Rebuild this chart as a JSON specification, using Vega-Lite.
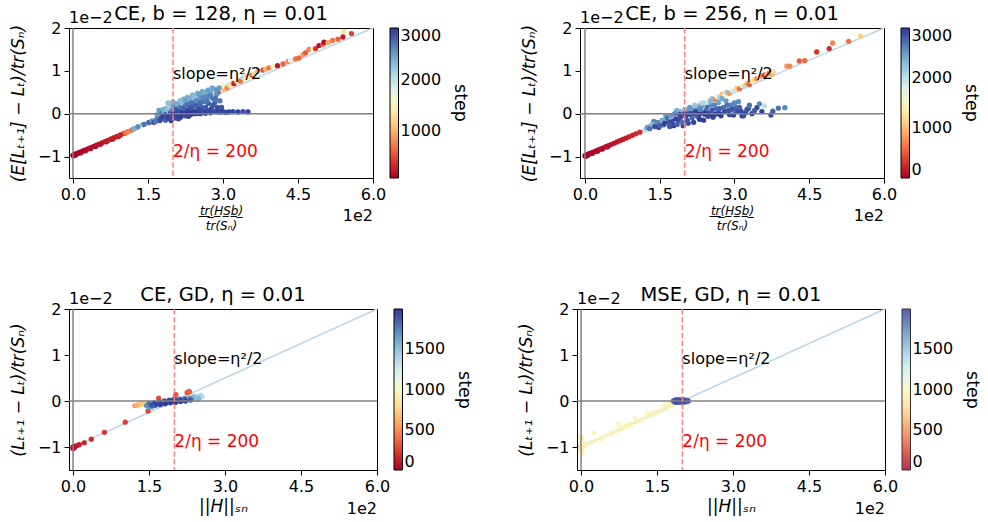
{
  "$schema": "https://vega.github.io/schema/vega-lite/v6.json",
  "background": "white",
  "padding": {"left": 8, "top": 3, "right": 5, "bottom": 3},
  "config": {
    "font": "DejaVu Sans",
    "view": {"stroke": "#000", "strokeWidth": 1},
    "axis": {"domain": false, "grid": false, "tickSize": 5, "tickColor": "#000", "tickWidth": 1, "labelFontSize": 16, "labelColor": "#000", "labelPadding": 3, "labelFlush": false, "titleFontSize": 17, "titleFontWeight": "normal", "titleColor": "#000"},
    "legend": {"titleOrient": "right", "titleFontSize": 17.5, "titleFontWeight": "normal", "titleColor": "#000", "labelFontSize": 16, "labelColor": "#000", "gradientThickness": 8.5, "gradientStrokeColor": "#000", "gradientStrokeWidth": 1, "labelBaseline": "middle", "labelOffset": 8, "offset": 17, "padding": 0, "titlePadding": 10},
    "title": {"fontSize": 19.5, "fontWeight": "normal", "color": "#000", "offset": -14, "frame": "group"}
  },
  "datasets": {
    "line": [{"x": 0, "y": -1}, {"x": 6, "y": 2}],
    "p1": [
      {"x":0.00,"y":-0.97,"s":90},{"x":0.01,"y":-0.98,"s":92},{"x":0.02,"y":-0.96,"s":95},{"x":0.03,"y":-0.97,"s":98},{"x":0.04,"y":-0.95,"s":100},{"x":0.05,"y":-0.965,"s":102},{"x":0.06,"y":-0.94,"s":105},{"x":0.08,"y":-0.93,"s":110},{"x":0.10,"y":-0.92,"s":115},{"x":0.13,"y":-0.905,"s":120},{"x":0.15,"y":-0.915,"s":122},{"x":0.16,"y":-0.89,"s":125},{"x":0.20,"y":-0.87,"s":130},{"x":0.24,"y":-0.85,"s":140},{"x":0.25,"y":-0.865,"s":142},{"x":0.28,"y":-0.83,"s":150},{"x":0.32,"y":-0.81,"s":160},{"x":0.35,"y":-0.815,"s":165},{"x":0.37,"y":-0.785,"s":170},{"x":0.42,"y":-0.76,"s":180},{"x":0.45,"y":-0.765,"s":185},{"x":0.47,"y":-0.735,"s":190},{"x":0.52,"y":-0.71,"s":200},{"x":0.55,"y":-0.715,"s":205},{"x":0.58,"y":-0.68,"s":210},{"x":0.64,"y":-0.65,"s":220},{"x":0.67,"y":-0.655,"s":225},{"x":0.70,"y":-0.62,"s":230},{"x":0.76,"y":-0.59,"s":245},{"x":0.79,"y":-0.595,"s":250},{"x":0.82,"y":-0.56,"s":260},{"x":0.88,"y":-0.53,"s":275},{"x":0.91,"y":-0.535,"s":280},{"x":0.95,"y":-0.495,"s":290},{"x":1.02,"y":-0.46,"s":310},{"x":1.10,"y":-0.42,"s":330},
      {"x":1.05,"y":-0.45,"s":700},{"x":1.12,"y":-0.41,"s":800},{"x":1.18,"y":-0.38,"s":650},{"x":1.28,"y":-0.33,"s":900},{"x":1.38,"y":-0.27,"s":750},{"x":1.45,"y":-0.24,"s":1400},{"x":1.55,"y":-0.2,"s":600},{"x":1.65,"y":-0.14,"s":1300},{"x":1.35,"y":-0.3,"s":1800},{"x":1.6,"y":-0.16,"s":1900},{"x":1.5,"y":-0.22,"s":2200},
      {"x":1.95,"y":0.0,"s":1900},{"x":2.1,"y":0.06,"s":1500},{"x":2.2,"y":0.12,"s":2000},{"x":2.3,"y":0.16,"s":1300},{"x":2.4,"y":0.22,"s":1800},
      {"x":2.45,"y":0.36,"s":1500},{"x":2.5,"y":0.4,"s":2000},{"x":2.55,"y":0.38,"s":1300},{"x":2.6,"y":0.45,"s":2200},{"x":2.62,"y":0.4,"s":900},{"x":2.7,"y":0.5,"s":1700},{"x":2.72,"y":0.44,"s":1400},{"x":2.78,"y":0.52,"s":2100},{"x":2.82,"y":0.48,"s":1200},{"x":2.85,"y":0.57,"s":1600},{"x":2.9,"y":0.5,"s":400},{"x":2.95,"y":0.6,"s":1900},{"x":3.0,"y":0.58,"s":1100},{"x":3.02,"y":0.65,"s":1500},{"x":3.08,"y":0.6,"s":800},{"x":3.12,"y":0.68,"s":2000},{"x":3.15,"y":0.66,"s":1350},{"x":3.2,"y":0.72,"s":1000},{"x":3.22,"y":0.7,"s":300},{"x":3.28,"y":0.76,"s":1800},{"x":3.32,"y":0.78,"s":1200},{"x":3.35,"y":0.76,"s":700},{"x":3.4,"y":0.84,"s":2100},{"x":3.45,"y":0.82,"s":1450},{"x":3.5,"y":0.88,"s":900},{"x":3.52,"y":0.85,"s":1600},{"x":3.58,"y":0.9,"s":600},{"x":3.62,"y":0.93,"s":1300},{"x":3.7,"y":0.99,"s":800},{"x":3.72,"y":0.96,"s":1900},{"x":3.8,"y":1.02,"s":500},{"x":3.85,"y":1.04,"s":1000},{"x":3.92,"y":1.07,"s":700},{"x":4.0,"y":1.1,"s":1500},{"x":4.09,"y":1.12,"s":250},{"x":4.2,"y":1.16,"s":600},{"x":4.3,"y":1.22,"s":800},{"x":4.35,"y":1.25,"s":1800},{"x":4.45,"y":1.28,"s":700},{"x":4.52,"y":1.3,"s":650},{"x":4.6,"y":1.38,"s":900},{"x":4.65,"y":1.42,"s":550},{"x":4.72,"y":1.5,"s":750},{"x":4.8,"y":1.5,"s":1400},{"x":4.85,"y":1.52,"s":400},{"x":4.92,"y":1.59,"s":200},{"x":5.0,"y":1.62,"s":650},{"x":5.02,"y":1.67,"s":150},{"x":5.1,"y":1.66,"s":900},{"x":5.19,"y":1.71,"s":700},{"x":5.3,"y":1.74,"s":600},{"x":5.4,"y":1.79,"s":250},{"x":5.41,"y":1.92,"s":1300},{"x":5.57,"y":1.87,"s":450},
      {"x":1.22,"y":-0.35,"s":2400},{"x":1.3,"y":-0.3,"s":2600},{"x":1.42,"y":-0.25,"s":2700},{"x":1.52,"y":-0.2,"s":2800},{"x":1.58,"y":-0.17,"s":2500},{"x":1.62,"y":-0.2,"s":2900},{"x":1.68,"y":-0.12,"s":2600},
      {"x":1.65,"y":-0.18,"s":2700},{"x":1.68,"y":-0.02,"s":2400},{"x":1.74,"y":-0.16,"s":2900},{"x":1.76,"y":0.04,"s":2500},{"x":1.8,"y":0.1,"s":2350},{"x":1.83,"y":-0.12,"s":2950},{"x":1.86,"y":0.12,"s":2450},{"x":1.89,"y":-0.05,"s":2850},{"x":1.93,"y":0.2,"s":2300},{"x":1.96,"y":-0.16,"s":2950},{"x":1.99,"y":0.14,"s":2600},{"x":2.03,"y":-0.07,"s":2900},{"x":2.06,"y":0.24,"s":2400},{"x":2.08,"y":0.14,"s":2700},{"x":2.11,"y":-0.12,"s":2950},{"x":2.14,"y":0.3,"s":2350},{"x":2.17,"y":0.08,"s":2800},{"x":2.19,"y":-0.03,"s":2950},{"x":2.21,"y":0.34,"s":2450},{"x":2.24,"y":0.22,"s":2650},{"x":2.27,"y":0.08,"s":2900},{"x":2.29,"y":0.38,"s":2400},{"x":2.31,"y":-0.06,"s":2950},{"x":2.34,"y":0.28,"s":2600},{"x":2.37,"y":0.1,"s":2850},{"x":2.39,"y":0.44,"s":2350},{"x":2.41,"y":0.18,"s":2750},{"x":2.44,"y":0.32,"s":2550},{"x":2.46,"y":0.06,"s":2950},{"x":2.49,"y":0.48,"s":2400},{"x":2.51,"y":0.22,"s":2700},{"x":2.54,"y":0.36,"s":2500},{"x":2.57,"y":0.14,"s":2850},{"x":2.59,"y":0.52,"s":2450},{"x":2.61,"y":0.28,"s":2650},{"x":2.64,"y":0.44,"s":2550},{"x":2.67,"y":0.06,"s":2950},{"x":2.69,"y":0.4,"s":2600},{"x":2.71,"y":0.24,"s":2800},{"x":2.74,"y":0.5,"s":2500},{"x":2.77,"y":0.12,"s":2900},{"x":2.79,"y":0.36,"s":2650},{"x":2.81,"y":0.58,"s":2450},{"x":2.84,"y":0.26,"s":2750},{"x":2.87,"y":0.45,"s":2550},{"x":2.89,"y":0.14,"s":2900},{"x":2.92,"y":0.6,"s":2500},{"x":2.94,"y":0.3,"s":2700},{"x":2.97,"y":0.15,"s":2850},{"x":1.72,"y":0.08,"s":2500},{"x":1.9,"y":0.25,"s":2300},{"x":2.0,"y":0.28,"s":2350},
      {"x":1.70,"y":-0.10,"s":2700},{"x":1.72,"y":-0.05,"s":2500},{"x":1.75,"y":-0.12,"s":2900},{"x":1.78,"y":0.0,"s":2800},{"x":1.80,"y":-0.08,"s":2950},{"x":1.82,"y":0.05,"s":2400},{"x":1.85,"y":-0.02,"s":2900},{"x":1.85,"y":-0.15,"s":2800},{"x":1.88,"y":0.1,"s":2300},{"x":1.90,"y":-0.1,"s":2950},{"x":1.92,"y":0.15,"s":2200},{"x":1.95,"y":0.02,"s":2850},{"x":1.95,"y":-0.12,"s":2900},{"x":1.98,"y":0.08,"s":2600},{"x":2.0,"y":-0.05,"s":2950},{"x":2.0,"y":0.0,"s":2990},{"x":2.02,"y":0.18,"s":2500},{"x":2.05,"y":0.1,"s":2800},{"x":2.05,"y":-0.1,"s":2900},{"x":2.08,"y":0.0,"s":2950},{"x":2.1,"y":0.22,"s":2400},{"x":2.1,"y":-0.01,"s":2990},{"x":2.12,"y":0.05,"s":2900},{"x":2.15,"y":0.15,"s":2700},{"x":2.15,"y":-0.08,"s":2950},{"x":2.18,"y":0.28,"s":2300},{"x":2.2,"y":0.02,"s":2950},{"x":2.2,"y":0.0,"s":2990},{"x":2.22,"y":0.12,"s":2800},{"x":2.25,"y":0.3,"s":2500},{"x":2.25,"y":-0.05,"s":2900},{"x":2.28,"y":0.2,"s":2700},{"x":2.3,"y":0.05,"s":2950},{"x":2.3,"y":0.01,"s":2990},{"x":2.33,"y":0.35,"s":2400},{"x":2.35,"y":0.15,"s":2850},{"x":2.35,"y":-0.02,"s":2950},{"x":2.38,"y":0.25,"s":2700},{"x":2.4,"y":0.03,"s":2950},{"x":2.4,"y":0.0,"s":2990},{"x":2.42,"y":0.4,"s":2300},{"x":2.45,"y":0.2,"s":2800},{"x":2.45,"y":0.0,"s":2950},{"x":2.48,"y":0.3,"s":2600},{"x":2.5,"y":0.1,"s":2900},{"x":2.5,"y":0.01,"s":2990},{"x":2.52,"y":0.45,"s":2500},{"x":2.55,"y":0.25,"s":2750},{"x":2.55,"y":0.0,"s":2950},{"x":2.58,"y":0.05,"s":2900},{"x":2.6,"y":0.38,"s":2600},{"x":2.62,"y":0.5,"s":2400},{"x":2.65,"y":0.15,"s":2850},{"x":2.65,"y":0.01,"s":2950},{"x":2.68,"y":0.3,"s":2700},{"x":2.7,"y":0.55,"s":2500},{"x":2.72,"y":0.08,"s":2900},{"x":2.75,"y":0.42,"s":2650},{"x":2.75,"y":0.02,"s":2950},{"x":2.78,"y":0.6,"s":2450},{"x":2.8,"y":0.2,"s":2850},{"x":2.82,"y":0.05,"s":2900},{"x":2.85,"y":0.35,"s":2700},{"x":2.88,"y":0.55,"s":2550},{"x":2.9,"y":0.04,"s":2950},{"x":2.95,"y":0.04,"s":2900},{"x":3.0,"y":0.05,"s":2950},{"x":3.05,"y":0.03,"s":2900},{"x":3.12,"y":0.04,"s":2950},{"x":3.2,"y":0.05,"s":2900},{"x":3.3,"y":0.04,"s":2950},{"x":3.4,"y":0.05,"s":2900},{"x":3.5,"y":0.04,"s":2950}
    ],
    "p2": [
      {"x":0.00,"y":-0.98,"s":10},{"x":0.01,"y":-0.99,"s":12},{"x":0.02,"y":-0.97,"s":15},{"x":0.03,"y":-0.98,"s":18},{"x":0.04,"y":-0.96,"s":20},{"x":0.05,"y":-0.975,"s":22},{"x":0.06,"y":-0.95,"s":25},{"x":0.08,"y":-0.94,"s":30},{"x":0.10,"y":-0.93,"s":35},{"x":0.13,"y":-0.915,"s":40},{"x":0.15,"y":-0.925,"s":42},{"x":0.16,"y":-0.9,"s":45},{"x":0.20,"y":-0.88,"s":50},{"x":0.24,"y":-0.86,"s":60},{"x":0.25,"y":-0.875,"s":62},{"x":0.28,"y":-0.84,"s":70},{"x":0.32,"y":-0.82,"s":80},{"x":0.35,"y":-0.825,"s":85},{"x":0.37,"y":-0.795,"s":90},{"x":0.42,"y":-0.77,"s":100},{"x":0.45,"y":-0.775,"s":105},{"x":0.47,"y":-0.745,"s":110},{"x":0.52,"y":-0.72,"s":120},{"x":0.58,"y":-0.69,"s":130},{"x":0.64,"y":-0.66,"s":140},{"x":0.70,"y":-0.63,"s":150},{"x":0.76,"y":-0.6,"s":165},{"x":0.82,"y":-0.57,"s":180},{"x":0.88,"y":-0.54,"s":195},{"x":0.95,"y":-0.505,"s":210},{"x":1.02,"y":-0.47,"s":230},{"x":1.10,"y":-0.43,"s":250},
      {"x":1.3,"y":-0.3,"s":700},{"x":1.4,"y":-0.25,"s":800},{"x":1.5,"y":-0.2,"s":650},{"x":1.55,"y":-0.18,"s":900},{"x":1.45,"y":-0.22,"s":600},{"x":1.2,"y":-0.38,"s":2000},{"x":1.6,"y":-0.2,"s":2000},
      {"x":2.2,"y":0.15,"s":1500},{"x":2.3,"y":0.2,"s":900},{"x":2.4,"y":0.25,"s":2000},{"x":2.5,"y":0.3,"s":1200},{"x":2.55,"y":0.35,"s":2200},{"x":2.6,"y":0.33,"s":700},{"x":2.65,"y":0.4,"s":1700},{"x":2.7,"y":0.38,"s":2100},{"x":2.75,"y":0.45,"s":1000},{"x":2.8,"y":0.43,"s":1400},{"x":2.85,"y":0.5,"s":2200},{"x":2.9,"y":0.48,"s":800},{"x":2.95,"y":0.55,"s":1600},{"x":3.0,"y":0.53,"s":1900},{"x":3.05,"y":0.6,"s":1100},{"x":3.1,"y":0.58,"s":600},{"x":3.15,"y":0.66,"s":1400},{"x":3.2,"y":0.64,"s":2000},{"x":3.25,"y":0.7,"s":900},{"x":3.3,"y":0.68,"s":500},{"x":3.35,"y":0.75,"s":1300},{"x":3.4,"y":0.8,"s":1200},{"x":3.45,"y":0.82,"s":700},{"x":3.5,"y":0.85,"s":1500},{"x":3.55,"y":0.88,"s":800},{"x":3.6,"y":0.9,"s":300},{"x":3.65,"y":0.92,"s":1000},{"x":3.7,"y":0.95,"s":650},{"x":3.75,"y":0.92,"s":900},{"x":3.78,"y":0.98,"s":1200},{"x":4.05,"y":1.11,"s":800},{"x":4.11,"y":1.11,"s":700},{"x":4.3,"y":1.23,"s":500},{"x":4.41,"y":1.24,"s":550},{"x":4.65,"y":1.44,"s":300},{"x":4.9,"y":1.52,"s":250},{"x":4.97,"y":1.65,"s":700},{"x":5.29,"y":1.69,"s":600},{"x":5.53,"y":1.81,"s":1100},
      {"x":1.38,"y":-0.18,"s":2600},{"x":1.48,"y":-0.32,"s":2900},{"x":1.58,"y":-0.26,"s":2800},{"x":1.62,"y":-0.05,"s":2400},{"x":1.68,"y":-0.2,"s":2850},{"x":1.78,"y":-0.28,"s":2950},{"x":1.84,"y":0.08,"s":2350},{"x":1.88,"y":-0.16,"s":2900},{"x":1.97,"y":-0.28,"s":2950},{"x":2.04,"y":0.06,"s":2600},{"x":2.07,"y":-0.22,"s":2900},{"x":2.14,"y":0.1,"s":2500},{"x":2.18,"y":-0.2,"s":2950},{"x":2.24,"y":0.14,"s":2450},{"x":2.28,"y":-0.08,"s":2900},{"x":2.34,"y":0.18,"s":2500},{"x":2.38,"y":-0.15,"s":2950},{"x":2.43,"y":0.08,"s":2750},{"x":2.47,"y":-0.06,"s":2900},{"x":2.53,"y":0.2,"s":2550},{"x":2.57,"y":-0.08,"s":2950},{"x":2.63,"y":0.12,"s":2750},{"x":2.68,"y":0.26,"s":2450},{"x":2.73,"y":-0.05,"s":2950},{"x":2.78,"y":0.15,"s":2700},{"x":2.83,"y":0.3,"s":2500},{"x":2.88,"y":0.08,"s":2850},{"x":2.93,"y":0.2,"s":2650},{"x":2.98,"y":-0.03,"s":2950},{"x":3.03,"y":0.14,"s":2750},{"x":3.08,"y":0.28,"s":2550},{"x":3.13,"y":0.06,"s":2900},{"x":3.22,"y":0.02,"s":2950},{"x":3.28,"y":0.12,"s":2800},
      {"x":1.25,"y":-0.32,"s":2500},{"x":1.3,"y":-0.35,"s":2700},{"x":1.35,"y":-0.25,"s":2300},{"x":1.4,"y":-0.3,"s":2900},{"x":1.45,"y":-0.2,"s":2600},{"x":1.5,"y":-0.28,"s":2800},{"x":1.55,"y":-0.15,"s":2400},{"x":1.6,"y":-0.22,"s":2950},{"x":1.65,"y":-0.1,"s":2700},{"x":1.7,"y":-0.3,"s":2850},{"x":1.72,"y":-0.05,"s":2500},{"x":1.75,"y":-0.18,"s":2900},{"x":1.8,"y":0.0,"s":2600},{"x":1.82,"y":-0.12,"s":2950},{"x":1.85,"y":-0.25,"s":2800},{"x":1.9,"y":0.05,"s":2400},{"x":1.9,"y":-0.02,"s":2990},{"x":1.92,"y":-0.08,"s":2900},{"x":1.95,"y":-0.2,"s":2700},{"x":2.0,"y":0.1,"s":2300},{"x":2.0,"y":0.0,"s":2990},{"x":2.02,"y":-0.05,"s":2950},{"x":2.05,"y":-0.15,"s":2850},{"x":2.1,"y":0.15,"s":2500},{"x":2.1,"y":-0.01,"s":2990},{"x":2.12,"y":0.0,"s":2900},{"x":2.15,"y":-0.1,"s":2750},{"x":2.2,"y":0.2,"s":2200},{"x":2.2,"y":0.0,"s":2990},{"x":2.22,"y":0.05,"s":2950},{"x":2.25,"y":-0.05,"s":2800},{"x":2.3,"y":-0.13,"s":2990},{"x":2.3,"y":0.0,"s":2990},{"x":2.32,"y":0.1,"s":2600},{"x":2.35,"y":0.25,"s":2100},{"x":2.4,"y":0.02,"s":2900},{"x":2.4,"y":-0.01,"s":2990},{"x":2.45,"y":0.15,"s":2700},{"x":2.5,"y":-0.02,"s":2950},{"x":2.5,"y":0.0,"s":2990},{"x":2.52,"y":0.3,"s":2300},{"x":2.55,"y":0.08,"s":2850},{"x":2.6,"y":0.2,"s":2600},{"x":2.6,"y":-0.02,"s":2990},{"x":2.65,"y":0.0,"s":2950},{"x":2.7,"y":0.12,"s":2800},{"x":2.7,"y":0.0,"s":2990},{"x":2.75,"y":0.35,"s":2400},{"x":2.8,"y":0.05,"s":2900},{"x":2.85,"y":0.2,"s":2700},{"x":2.9,"y":-0.02,"s":2950},{"x":2.95,"y":0.1,"s":2850},{"x":3.0,"y":0.25,"s":2600},{"x":3.05,"y":0.05,"s":2900},{"x":3.1,"y":0.15,"s":2800},{"x":3.15,"y":-0.05,"s":2950},{"x":3.18,"y":-0.05,"s":2900},{"x":3.25,"y":0.1,"s":2850},{"x":3.3,"y":0.2,"s":2700},{"x":3.35,"y":0.0,"s":2950},{"x":3.4,"y":0.07,"s":2800},{"x":3.45,"y":0.14,"s":2900},{"x":3.5,"y":0.23,"s":2600},{"x":3.55,"y":0.05,"s":2950},{"x":3.6,"y":0.18,"s":2000},{"x":3.73,"y":-0.03,"s":2900},{"x":3.77,"y":0.06,"s":2800},{"x":3.88,"y":0.13,"s":2700},{"x":4.01,"y":0.14,"s":2600}
    ],
    "p3": [
      {"x":0.0,"y":-1.0,"s":20},{"x":0.01,"y":-1.02,"s":30},{"x":0.02,"y":-0.99,"s":40},{"x":0.0,"y":-1.03,"s":50},{"x":0.03,"y":-1.0,"s":60},{"x":0.05,"y":-0.98,"s":80},{"x":0.08,"y":-0.97,"s":100},{"x":0.12,"y":-0.95,"s":120},{"x":0.22,"y":-0.91,"s":150},{"x":0.36,"y":-0.83,"s":180},{"x":0.62,"y":-0.68,"s":210},{"x":1.03,"y":-0.46,"s":240},{"x":1.48,"y":-0.22,"s":270},{"x":1.69,"y":0.06,"s":300},{"x":2.0,"y":0.05,"s":310},{"x":2.03,"y":0.14,"s":320},{"x":2.25,"y":0.18,"s":330},{"x":2.29,"y":0.21,"s":340},{"x":2.3,"y":0.2,"s":350},
      {"x":1.22,"y":-0.1,"s":550},{"x":1.26,"y":-0.09,"s":600},{"x":1.3,"y":-0.08,"s":650},{"x":1.35,"y":-0.07,"s":700},{"x":1.4,"y":-0.06,"s":750},
      {"x":2.55,"y":0.1,"s":1300},{"x":2.52,"y":0.12,"s":1400},{"x":2.5,"y":0.07,"s":1350},{"x":2.42,"y":0.04,"s":1400},{"x":2.45,"y":0.09,"s":1450},{"x":2.4,"y":0.08,"s":1500},{"x":2.38,"y":0.1,"s":1500},{"x":2.48,"y":0.05,"s":1550},{"x":2.35,"y":0.05,"s":1600},{"x":1.48,"y":-0.12,"s":1600},{"x":1.55,"y":-0.13,"s":1650},
      {"x":1.45,"y":-0.1,"s":1700},{"x":1.5,"y":-0.05,"s":1800},{"x":1.55,"y":-0.09,"s":1900},{"x":1.6,"y":-0.04,"s":1950},{"x":1.62,"y":-0.1,"s":1850},{"x":1.65,"y":-0.06,"s":1990},{"x":1.7,"y":-0.02,"s":1900},{"x":1.72,"y":-0.08,"s":1950},{"x":1.75,"y":-0.04,"s":1990},{"x":1.8,"y":0.0,"s":1880},{"x":1.82,"y":-0.06,"s":1960},{"x":1.85,"y":-0.02,"s":1990},{"x":1.9,"y":0.02,"s":1920},{"x":1.92,"y":-0.04,"s":1980},{"x":1.95,"y":0.0,"s":1990},{"x":2.0,"y":0.03,"s":1900},{"x":2.02,"y":-0.03,"s":1970},{"x":2.05,"y":0.01,"s":1990},{"x":2.1,"y":0.04,"s":1850},{"x":2.12,"y":-0.01,"s":1960},{"x":2.15,"y":0.02,"s":1990},{"x":2.2,"y":0.05,"s":1800},{"x":2.22,"y":0.0,"s":1950},{"x":2.25,"y":0.03,"s":1990},{"x":2.3,"y":0.06,"s":1700},{"x":2.32,"y":0.02,"s":1900}
    ],
    "p4": [
      {"x":0.0,"y":-1.0,"s":60},
      {"x":0.0,"y":-0.77,"s":950},{"x":0.01,"y":-0.8,"s":950},{"x":0.0,"y":-0.85,"s":950},{"x":0.02,"y":-0.9,"s":950},{"x":0.0,"y":-0.95,"s":950},{"x":0.01,"y":-1.0,"s":950},{"x":0.03,"y":-1.05,"s":950},{"x":0.0,"y":-1.1,"s":950},{"x":0.02,"y":-1.15,"s":950},{"x":0.04,"y":-0.98,"s":950},{"x":0.05,"y":-0.92,"s":950},{"x":0.0,"y":-1.02,"s":950},
      {"x":0.25,"y":-0.7,"s":950},{"x":0.4,"y":-0.82,"s":950},{"x":0.6,"y":-0.7,"s":950},{"x":0.74,"y":-0.5,"s":950},{"x":0.87,"y":-0.56,"s":950},{"x":0.95,"y":-0.52,"s":950},{"x":1.07,"y":-0.38,"s":950},{"x":1.17,"y":-0.44,"s":950},{"x":1.3,"y":-0.27,"s":950},{"x":1.4,"y":-0.26,"s":950},{"x":1.5,"y":-0.22,"s":950},{"x":1.63,"y":-0.12,"s":950},{"x":1.7,"y":-0.1,"s":950},{"x":1.75,"y":-0.07,"s":950},
      {"x":0.1,"y":-0.95,"s":950},{"x":0.2,"y":-0.9,"s":950},{"x":0.3,"y":-0.85,"s":950},{"x":0.4,"y":-0.8,"s":950},{"x":0.5,"y":-0.75,"s":950},{"x":0.6,"y":-0.7,"s":950},{"x":0.7,"y":-0.65,"s":950},{"x":0.8,"y":-0.6,"s":950},{"x":0.9,"y":-0.55,"s":950},{"x":1.0,"y":-0.5,"s":950},{"x":1.1,"y":-0.45,"s":950},{"x":1.2,"y":-0.4,"s":950},{"x":1.3,"y":-0.35,"s":950},{"x":1.4,"y":-0.3,"s":950},{"x":1.5,"y":-0.25,"s":950},{"x":1.6,"y":-0.2,"s":950},{"x":1.7,"y":-0.15,"s":950},{"x":1.8,"y":-0.1,"s":950},
      {"x":1.82,"y":0.0,"s":1900},{"x":1.85,"y":0.02,"s":1900},{"x":1.85,"y":-0.02,"s":1900},{"x":1.88,"y":0.03,"s":1900},{"x":1.88,"y":-0.03,"s":1900},{"x":1.9,"y":0.0,"s":1900},{"x":1.92,"y":0.03,"s":1900},{"x":1.92,"y":-0.03,"s":1900},{"x":1.95,"y":0.0,"s":1900},{"x":1.97,"y":0.03,"s":1900},{"x":1.97,"y":-0.03,"s":1900},{"x":2.0,"y":0.0,"s":1900},{"x":2.02,"y":0.03,"s":1900},{"x":2.02,"y":-0.03,"s":1900},{"x":2.05,"y":0.0,"s":1900},{"x":2.07,"y":0.02,"s":1900},{"x":2.07,"y":-0.02,"s":1900},{"x":2.1,"y":0.0,"s":1900},{"x":2.12,"y":0.0,"s":1900}
    ]
  },
  "vconcat": [
    {
      "spacing": 49,
      "resolve": {"scale": {"color": "independent"}, "legend": {"color": "independent"}},
      "hconcat": [
        {
          "width": 304, "height": 150,
          "title": "CE, b = 128, η = 0.01",
          "layer": [
            {"data": {"name": "line"}, "mark": {"type": "line", "color": "#bcd6e8", "strokeWidth": 1.5}, "encoding": {"x": {"field": "x", "type": "quantitative", "scale": {"domain": [-0.08, 6], "nice": false, "zero": false}}, "y": {"field": "y", "type": "quantitative", "scale": {"domain": [-1.5, 2], "nice": false, "zero": false}}}},
            {"data": {"name": "p1"}, "mark": {"type": "circle", "size": 28, "opacity": 1},
             "encoding": {
               "x": {"field": "x", "type": "quantitative", "axis": {"values": [0, 1.5, 3, 4.5, 6], "format": ".1f", "title": ["t\u0332r\u0332(\u0332H\u0332S\u0332b\u0332)\u0332", "tr(Sₙ)"], "titleFontSize": 12, "titleFontStyle": "italic", "titleLineHeight": 15, "titlePadding": 3}},
               "y": {"field": "y", "type": "quantitative", "axis": {"values": [-1, 0, 1, 2], "format": "d", "title": "(E[Lₜ₊₁] − Lₜ)/tr(Sₙ)", "titleFontStyle": "italic", "titlePadding": 10}},
               "color": {"field": "s", "type": "quantitative", "scale": {"scheme": "redyellowblue", "domain": [90, 3000]}, "legend": {"title": "step", "format": "d", "values": [1000, 2000, 3000], "gradientLength": 150, "encoding": {"title": {"update": {"angle": {"value": -90}}}}}}
             }},
            {"data": {"values": [{}]}, "mark": {"type": "rule", "color": "#808080", "strokeWidth": 1.5}, "encoding": {"x": {"datum": 0}}},
            {"data": {"values": [{}]}, "mark": {"type": "rule", "color": "#808080", "strokeWidth": 1.5}, "encoding": {"y": {"datum": 0}}},
            {"data": {"values": [{}]}, "mark": {"type": "rule", "color": "#ff8080", "strokeWidth": 1.5, "strokeDash": [5.5, 2.4]}, "encoding": {"x": {"datum": 2}}},
            {"data": {"values": [{}]}, "mark": {"type": "text", "text": "slope=η²/2", "align": "left", "baseline": "alphabetic", "fontSize": 16, "color": "#000"}, "encoding": {"x": {"datum": 2.0}, "y": {"datum": 0.8}}},
            {"data": {"values": [{}]}, "mark": {"type": "text", "text": "2/η = 200", "align": "left", "baseline": "alphabetic", "fontSize": 17, "color": "#ff0000"}, "encoding": {"x": {"datum": 2.0}, "y": {"datum": -1.0}}},
            {"data": {"values": [{}]}, "mark": {"type": "text", "text": "1e−2", "align": "left", "baseline": "alphabetic", "fontSize": 16, "color": "#000", "dy": -5}, "encoding": {"x": {"datum": -0.08}, "y": {"datum": 2}}},
            {"data": {"values": [{}]}, "mark": {"type": "text", "text": "1e2", "align": "right", "baseline": "alphabetic", "fontSize": 16, "color": "#000", "dy": 43}, "encoding": {"x": {"datum": 6}, "y": {"datum": -1.5}}}
          ]
        },
        {
          "width": 304, "height": 150,
          "title": "CE, b = 256, η = 0.01",
          "layer": [
            {"data": {"name": "line"}, "mark": {"type": "line", "color": "#bcd6e8", "strokeWidth": 1.5}, "encoding": {"x": {"field": "x", "type": "quantitative", "scale": {"domain": [-0.1, 6], "nice": false, "zero": false}}, "y": {"field": "y", "type": "quantitative", "scale": {"domain": [-1.5, 2], "nice": false, "zero": false}}}},
            {"data": {"name": "p2"}, "mark": {"type": "circle", "size": 28, "opacity": 1},
             "encoding": {
               "x": {"field": "x", "type": "quantitative", "axis": {"values": [0, 1.5, 3, 4.5, 6], "format": ".1f", "title": ["t\u0332r\u0332(\u0332H\u0332S\u0332b\u0332)\u0332", "tr(Sₙ)"], "titleFontSize": 12, "titleFontStyle": "italic", "titleLineHeight": 15, "titlePadding": 3}},
               "y": {"field": "y", "type": "quantitative", "axis": {"values": [-1, 0, 1, 2], "format": "d", "title": "(E[Lₜ₊₁] − Lₜ)/tr(Sₙ)", "titleFontStyle": "italic", "titlePadding": 10}},
               "color": {"field": "s", "type": "quantitative", "scale": {"scheme": "redyellowblue", "domain": [0, 3000]}, "legend": {"title": "step", "format": "d", "values": [0, 1000, 2000, 3000], "gradientLength": 150, "encoding": {"title": {"update": {"angle": {"value": -90}}}}}}
             }},
            {"data": {"values": [{}]}, "mark": {"type": "rule", "color": "#808080", "strokeWidth": 1.5}, "encoding": {"x": {"datum": 0}}},
            {"data": {"values": [{}]}, "mark": {"type": "rule", "color": "#808080", "strokeWidth": 1.5}, "encoding": {"y": {"datum": 0}}},
            {"data": {"values": [{}]}, "mark": {"type": "rule", "color": "#ff8080", "strokeWidth": 1.5, "strokeDash": [5.5, 2.4]}, "encoding": {"x": {"datum": 2}}},
            {"data": {"values": [{}]}, "mark": {"type": "text", "text": "slope=η²/2", "align": "left", "baseline": "alphabetic", "fontSize": 16, "color": "#000"}, "encoding": {"x": {"datum": 2.0}, "y": {"datum": 0.8}}},
            {"data": {"values": [{}]}, "mark": {"type": "text", "text": "2/η = 200", "align": "left", "baseline": "alphabetic", "fontSize": 17, "color": "#ff0000"}, "encoding": {"x": {"datum": 2.0}, "y": {"datum": -1.0}}},
            {"data": {"values": [{}]}, "mark": {"type": "text", "text": "1e−2", "align": "left", "baseline": "alphabetic", "fontSize": 16, "color": "#000", "dy": -5}, "encoding": {"x": {"datum": -0.1}, "y": {"datum": 2}}},
            {"data": {"values": [{}]}, "mark": {"type": "text", "text": "1e2", "align": "right", "baseline": "alphabetic", "fontSize": 16, "color": "#000", "dy": 43}, "encoding": {"x": {"datum": 6}, "y": {"datum": -1.5}}}
          ]
        }
      ]
    },
    {
      "spacing": 42,
      "resolve": {"scale": {"color": "independent"}, "legend": {"color": "independent"}},
      "hconcat": [
        {
          "width": 308, "height": 161,
          "title": "CE, GD, η = 0.01",
          "layer": [
            {"data": {"name": "line"}, "mark": {"type": "line", "color": "#bcd6e8", "strokeWidth": 1.5}, "encoding": {"x": {"field": "x", "type": "quantitative", "scale": {"domain": [-0.08, 6], "nice": false, "zero": false}}, "y": {"field": "y", "type": "quantitative", "scale": {"domain": [-1.5, 2], "nice": false, "zero": false}}}},
            {"data": {"name": "p3"}, "mark": {"type": "circle", "size": 28, "opacity": 1},
             "encoding": {
               "x": {"field": "x", "type": "quantitative", "axis": {"values": [0, 1.5, 3, 4.5, 6], "format": ".1f", "title": "||H||ₛₙ", "titleFontSize": 17, "titleFontStyle": "italic", "titlePadding": 4}},
               "y": {"field": "y", "type": "quantitative", "axis": {"values": [-1, 0, 1, 2], "format": "d", "title": "(Lₜ₊₁ − Lₜ)/tr(Sₙ)", "titleFontStyle": "italic", "titlePadding": 10}},
               "color": {"field": "s", "type": "quantitative", "scale": {"scheme": "redyellowblue", "domain": [0, 2000]}, "legend": {"title": "step", "format": "d", "values": [0, 500, 1000, 1500], "gradientLength": 161, "encoding": {"title": {"update": {"angle": {"value": -90}}}}}}
             }},
            {"data": {"values": [{}]}, "mark": {"type": "rule", "color": "#808080", "strokeWidth": 1.5}, "encoding": {"x": {"datum": 0}}},
            {"data": {"values": [{}]}, "mark": {"type": "rule", "color": "#808080", "strokeWidth": 1.5}, "encoding": {"y": {"datum": 0}}},
            {"data": {"values": [{}]}, "mark": {"type": "rule", "color": "#ff8080", "strokeWidth": 1.5, "strokeDash": [5.5, 2.4]}, "encoding": {"x": {"datum": 2}}},
            {"data": {"values": [{}]}, "mark": {"type": "text", "text": "slope=η²/2", "align": "left", "baseline": "alphabetic", "fontSize": 16, "color": "#000"}, "encoding": {"x": {"datum": 2.0}, "y": {"datum": 0.8}}},
            {"data": {"values": [{}]}, "mark": {"type": "text", "text": "2/η = 200", "align": "left", "baseline": "alphabetic", "fontSize": 17, "color": "#ff0000"}, "encoding": {"x": {"datum": 2.0}, "y": {"datum": -1.0}}},
            {"data": {"values": [{}]}, "mark": {"type": "text", "text": "1e−2", "align": "left", "baseline": "alphabetic", "fontSize": 16, "color": "#000", "dy": -5}, "encoding": {"x": {"datum": -0.08}, "y": {"datum": 2}}},
            {"data": {"values": [{}]}, "mark": {"type": "text", "text": "1e2", "align": "right", "baseline": "alphabetic", "fontSize": 16, "color": "#000", "dy": 44}, "encoding": {"x": {"datum": 6}, "y": {"datum": -1.5}}}
          ]
        },
        {
          "width": 308, "height": 161,
          "title": "MSE, GD, η = 0.01",
          "layer": [
            {"data": {"name": "line"}, "mark": {"type": "line", "color": "#bcd6e8", "strokeWidth": 1.5}, "encoding": {"x": {"field": "x", "type": "quantitative", "scale": {"domain": [-0.08, 6], "nice": false, "zero": false}}, "y": {"field": "y", "type": "quantitative", "scale": {"domain": [-1.5, 2], "nice": false, "zero": false}}}},
            {"data": {"name": "p4"}, "mark": {"type": "circle", "size": 28, "opacity": 0.8},
             "encoding": {
               "x": {"field": "x", "type": "quantitative", "axis": {"values": [0, 1.5, 3, 4.5, 6], "format": ".1f", "title": "||H||ₛₙ", "titleFontSize": 17, "titleFontStyle": "italic", "titlePadding": 4}},
               "y": {"field": "y", "type": "quantitative", "axis": {"values": [-1, 0, 1, 2], "format": "d", "title": "(Lₜ₊₁ − Lₜ)/tr(Sₙ)", "titleFontStyle": "italic", "titlePadding": 10}},
               "color": {"field": "s", "type": "quantitative", "scale": {"scheme": "redyellowblue", "domain": [0, 2000]}, "legend": {"title": "step", "format": "d", "values": [0, 500, 1000, 1500], "gradientLength": 161, "encoding": {"title": {"update": {"angle": {"value": -90}}}}}}
             }},
            {"data": {"values": [{}]}, "mark": {"type": "rule", "color": "#808080", "strokeWidth": 1.5}, "encoding": {"x": {"datum": 0}}},
            {"data": {"values": [{}]}, "mark": {"type": "rule", "color": "#808080", "strokeWidth": 1.5}, "encoding": {"y": {"datum": 0}}},
            {"data": {"values": [{}]}, "mark": {"type": "rule", "color": "#ff8080", "strokeWidth": 1.5, "strokeDash": [5.5, 2.4]}, "encoding": {"x": {"datum": 2}}},
            {"data": {"values": [{}]}, "mark": {"type": "text", "text": "slope=η²/2", "align": "left", "baseline": "alphabetic", "fontSize": 16, "color": "#000"}, "encoding": {"x": {"datum": 2.0}, "y": {"datum": 0.8}}},
            {"data": {"values": [{}]}, "mark": {"type": "text", "text": "2/η = 200", "align": "left", "baseline": "alphabetic", "fontSize": 17, "color": "#ff0000"}, "encoding": {"x": {"datum": 2.0}, "y": {"datum": -1.0}}},
            {"data": {"values": [{}]}, "mark": {"type": "text", "text": "1e−2", "align": "left", "baseline": "alphabetic", "fontSize": 16, "color": "#000", "dy": -5}, "encoding": {"x": {"datum": -0.08}, "y": {"datum": 2}}},
            {"data": {"values": [{}]}, "mark": {"type": "text", "text": "1e2", "align": "right", "baseline": "alphabetic", "fontSize": 16, "color": "#000", "dy": 44}, "encoding": {"x": {"datum": 6}, "y": {"datum": -1.5}}}
          ]
        }
      ]
    }
  ],
  "spacing": 52
}
